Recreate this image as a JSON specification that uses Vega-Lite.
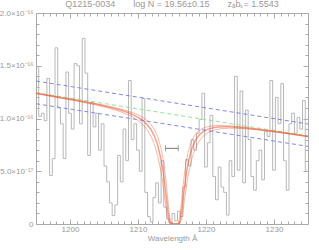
{
  "$schema": "https://vega.github.io/schema/vega-lite/v6.json",
  "width": 272,
  "height": 211,
  "autosize": {"type": "none"},
  "padding": {"left": 36, "top": 13, "right": 11, "bottom": 26},
  "background": "white",
  "title": {
    "text": "Q1215-0034\u2003\u2003log N = 19.56±0.15\u2003\u2003zₐbₛ= 1.5543",
    "font": "Liberation Sans",
    "fontSize": 9,
    "fontWeight": "normal",
    "color": "#999999",
    "anchor": "middle",
    "offset": 0
  },
  "config": {
    "view": {"stroke": null},
    "axis": {
      "grid": false,
      "domainColor": "#aaaaaa",
      "tickColor": "#aaaaaa",
      "labelColor": "#999999",
      "labelFont": "Liberation Sans",
      "labelFontSize": 8,
      "titleFont": "Liberation Sans",
      "titleFontSize": 8,
      "titleFontWeight": "normal",
      "titleColor": "#999999",
      "domainWidth": 1,
      "tickWidth": 1
    }
  },
  "datasets": {
    "spec": [
      {"lam": 1195.2, "flux": 1.48}, {"lam": 1195.6, "flux": 1.02}, {"lam": 1196.0, "flux": 1.05}, {"lam": 1196.4, "flux": 0.98},
      {"lam": 1196.8, "flux": 1.38}, {"lam": 1197.2, "flux": 0.46}, {"lam": 1197.6, "flux": 0.62}, {"lam": 1198.0, "flux": 1.67},
      {"lam": 1198.4, "flux": 1.10}, {"lam": 1198.8, "flux": 0.95}, {"lam": 1199.2, "flux": 0.62}, {"lam": 1199.6, "flux": 1.44},
      {"lam": 1200.0, "flux": 1.05}, {"lam": 1200.4, "flux": 0.90}, {"lam": 1200.8, "flux": 1.52}, {"lam": 1201.2, "flux": 1.50},
      {"lam": 1201.6, "flux": 0.95}, {"lam": 1202.0, "flux": 1.76}, {"lam": 1202.4, "flux": 1.43}, {"lam": 1202.8, "flux": 0.65},
      {"lam": 1203.2, "flux": 1.15}, {"lam": 1203.6, "flux": 0.92}, {"lam": 1204.0, "flux": 1.05}, {"lam": 1204.4, "flux": 0.70},
      {"lam": 1204.8, "flux": 0.95}, {"lam": 1205.2, "flux": 0.55}, {"lam": 1205.6, "flux": 0.40}, {"lam": 1206.0, "flux": 0.20},
      {"lam": 1206.4, "flux": 0.08}, {"lam": 1206.8, "flux": 0.18}, {"lam": 1207.2, "flux": 0.65}, {"lam": 1207.6, "flux": 0.40},
      {"lam": 1208.0, "flux": 0.90}, {"lam": 1208.4, "flux": 0.60}, {"lam": 1208.8, "flux": 1.36}, {"lam": 1209.2, "flux": 0.80},
      {"lam": 1209.6, "flux": 0.95}, {"lam": 1210.0, "flux": 0.70}, {"lam": 1210.4, "flux": 0.50}, {"lam": 1210.8, "flux": 1.19},
      {"lam": 1211.2, "flux": 0.30}, {"lam": 1211.6, "flux": 0.07}, {"lam": 1212.0, "flux": 0.02}, {"lam": 1212.4, "flux": 0.25},
      {"lam": 1212.8, "flux": 0.39}, {"lam": 1213.2, "flux": 0.20}, {"lam": 1213.6, "flux": 0.60}, {"lam": 1214.0, "flux": 0.16},
      {"lam": 1214.4, "flux": 0.05}, {"lam": 1214.8, "flux": 0.01}, {"lam": 1215.2, "flux": 0.10}, {"lam": 1215.6, "flux": 0.03},
      {"lam": 1216.0, "flux": 0.12}, {"lam": 1216.4, "flux": 0.07}, {"lam": 1216.8, "flux": 0.35}, {"lam": 1217.2, "flux": 0.61},
      {"lam": 1217.6, "flux": 0.55}, {"lam": 1218.0, "flux": 0.80}, {"lam": 1218.4, "flux": 0.70}, {"lam": 1218.8, "flux": 0.86},
      {"lam": 1219.2, "flux": 0.99}, {"lam": 1219.6, "flux": 1.24}, {"lam": 1220.0, "flux": 0.54}, {"lam": 1220.4, "flux": 0.77},
      {"lam": 1220.8, "flux": 1.03}, {"lam": 1221.2, "flux": 0.45}, {"lam": 1221.6, "flux": 0.23}, {"lam": 1222.0, "flux": 0.54},
      {"lam": 1222.4, "flux": 0.35}, {"lam": 1222.8, "flux": 0.30}, {"lam": 1223.2, "flux": 0.085}, {"lam": 1223.6, "flux": 0.60},
      {"lam": 1224.0, "flux": 0.45}, {"lam": 1224.4, "flux": 1.40}, {"lam": 1224.8, "flux": 0.51}, {"lam": 1225.2, "flux": 1.26},
      {"lam": 1225.6, "flux": 0.39}, {"lam": 1226.0, "flux": 1.08}, {"lam": 1226.4, "flux": 0.80}, {"lam": 1226.8, "flux": 0.45},
      {"lam": 1227.2, "flux": 0.32}, {"lam": 1227.6, "flux": 0.60}, {"lam": 1228.0, "flux": 0.70}, {"lam": 1228.4, "flux": 0.42},
      {"lam": 1228.8, "flux": 0.88}, {"lam": 1229.2, "flux": 0.83}, {"lam": 1229.6, "flux": 1.36}, {"lam": 1230.0, "flux": 0.51},
      {"lam": 1230.4, "flux": 1.20}, {"lam": 1230.8, "flux": 0.95}, {"lam": 1231.2, "flux": 1.33}, {"lam": 1231.6, "flux": 0.60},
      {"lam": 1232.0, "flux": 0.32}, {"lam": 1232.4, "flux": 0.95}, {"lam": 1232.8, "flux": 1.05}, {"lam": 1233.2, "flux": 0.86},
      {"lam": 1233.6, "flux": 1.01}, {"lam": 1234.0, "flux": 0.90}, {"lam": 1234.4, "flux": 1.17}, {"lam": 1234.8, "flux": 0.51}
    ],
    "model": [
      {"lam": 1195.0, "lo": 1.2404, "mid": 1.2384, "hi": 1.2358},
      {"lam": 1200.4, "lo": 1.1815, "mid": 1.1782, "hi": 1.1734},
      {"lam": 1203.4, "lo": 1.1464, "mid": 1.1413, "hi": 1.1342},
      {"lam": 1205.4, "lo": 1.1208, "mid": 1.1136, "hi": 1.1037},
      {"lam": 1207.4, "lo": 1.0910, "mid": 1.0801, "hi": 1.0650},
      {"lam": 1208.4, "lo": 1.0730, "mid": 1.0591, "hi": 1.0398},
      {"lam": 1209.4, "lo": 1.0509, "mid": 1.0323, "hi": 1.0069},
      {"lam": 1210.4, "lo": 1.0214, "mid": 0.9957, "hi": 0.9604},
      {"lam": 1210.9, "lo": 1.0018, "mid": 0.9707, "hi": 0.9285},
      {"lam": 1211.4, "lo": 0.9769, "mid": 0.9385, "hi": 0.8870},
      {"lam": 1211.9, "lo": 0.9437, "mid": 0.8956, "hi": 0.8321},
      {"lam": 1212.4, "lo": 0.8970, "mid": 0.8354, "hi": 0.7559},
      {"lam": 1212.9, "lo": 0.8270, "mid": 0.7466, "hi": 0.6465},
      {"lam": 1213.4, "lo": 0.7153, "mid": 0.6094, "hi": 0.4867},
      {"lam": 1213.65, "lo": 0.6332, "mid": 0.5137, "hi": 0.3830},
      {"lam": 1213.9, "lo": 0.5255, "mid": 0.3955, "hi": 0.2650},
      {"lam": 1214.15, "lo": 0.3864, "mid": 0.2565, "hi": 0.1442},
      {"lam": 1214.4, "lo": 0.2198, "mid": 0.1159, "hi": 0.0471},
      {"lam": 1214.65, "lo": 0.0652, "mid": 0.0209, "hi": 0.0042},
      {"lam": 1214.9, "lo": 0.0020, "mid": 0.0002, "hi": 0.0},
      {"lam": 1215.4, "lo": 0.0, "mid": 0.0, "hi": 0.0},
      {"lam": 1215.9, "lo": 0.0020, "mid": 0.0002, "hi": 0.0},
      {"lam": 1216.15, "lo": 0.0643, "mid": 0.0206, "hi": 0.0041},
      {"lam": 1216.4, "lo": 0.2155, "mid": 0.1136, "hi": 0.0462},
      {"lam": 1216.65, "lo": 0.3770, "mid": 0.2503, "hi": 0.1407},
      {"lam": 1216.9, "lo": 0.5101, "mid": 0.3839, "hi": 0.2573},
      {"lam": 1217.15, "lo": 0.6117, "mid": 0.4962, "hi": 0.3699},
      {"lam": 1217.4, "lo": 0.6875, "mid": 0.5858, "hi": 0.4678},
      {"lam": 1217.9, "lo": 0.7871, "mid": 0.7105, "hi": 0.6153},
      {"lam": 1218.4, "lo": 0.8453, "mid": 0.7873, "hi": 0.7123},
      {"lam": 1218.9, "lo": 0.8805, "mid": 0.8356, "hi": 0.7764},
      {"lam": 1219.4, "lo": 0.9025, "mid": 0.8671, "hi": 0.8195},
      {"lam": 1219.9, "lo": 0.9165, "mid": 0.8880, "hi": 0.8493},
      {"lam": 1220.4, "lo": 0.9251, "mid": 0.9017, "hi": 0.8699},
      {"lam": 1221.4, "lo": 0.9331, "mid": 0.9166, "hi": 0.8940},
      {"lam": 1222.4, "lo": 0.9339, "mid": 0.9218, "hi": 0.9050},
      {"lam": 1223.4, "lo": 0.9309, "mid": 0.9217, "hi": 0.9088},
      {"lam": 1225.4, "lo": 0.9189, "mid": 0.9131, "hi": 0.9049},
      {"lam": 1227.4, "lo": 0.9030, "mid": 0.8990, "hi": 0.8935},
      {"lam": 1230.4, "lo": 0.8761, "mid": 0.8736, "hi": 0.8701},
      {"lam": 1235.0, "lo": 0.8316, "mid": 0.8302, "hi": 0.8283}
    ],
    "cont": [
      {"lam": 1195.0, "flux": 1.245},
      {"lam": 1235.0, "flux": 0.835}
    ],
    "band": [
      {"lam": 1195.0, "flux": 1.355, "side": "upper"},
      {"lam": 1235.0, "flux": 0.948, "side": "upper"},
      {"lam": 1195.0, "flux": 1.140, "side": "lower"},
      {"lam": 1235.0, "flux": 0.736, "side": "lower"}
    ],
    "err": [
      {"lo": 1214.04, "hi": 1215.92, "y": 0.717}
    ],
    "caps": [
      {"lam": 1214.04, "y": 0.717},
      {"lam": 1215.92, "y": 0.717}
    ]
  },
  "layer": [
    {
      "data": {"name": "spec"},
      "mark": {"type": "line", "interpolate": "step", "color": "#b8b8b8", "strokeWidth": 1, "clip": true},
      "encoding": {
        "x": {"field": "lam", "type": "quantitative",
              "scale": {"domain": [1195, 1235], "nice": false, "zero": false},
              "axis": {"orient": "bottom", "values": [1200, 1210, 1220, 1230], "format": "d", "tickSize": -5, "labelPadding": 6,
                       "title": "Wavelength Å", "titlePadding": 1}},
        "y": {"field": "flux", "type": "quantitative",
              "scale": {"domain": [0, 2], "nice": false, "zero": true},
              "axis": {"orient": "left", "values": [0, 0.5, 1, 1.5, 2], "tickSize": -5, "labelPadding": 8,
                       "title": null,
                       "labelExpr": "datum.value == 0 ? '0' : (datum.value == 0.5 ? '5.0×10⁻¹⁷' : format(datum.value, '.1f') + '×10⁻¹⁶')"}}
      }
    },
    {
      "data": {"name": "cont"},
      "mark": {"type": "line", "color": "#8fe88f", "strokeWidth": 1, "strokeDash": [4, 3], "clip": true},
      "encoding": {
        "x": {"field": "lam", "type": "quantitative",
              "scale": {"domain": [1195, 1235], "nice": false, "zero": false},
              "axis": {"orient": "top", "values": [1200, 1210, 1220, 1230], "tickSize": -5, "labels": false, "title": null}},
        "y": {"field": "flux", "type": "quantitative",
              "scale": {"domain": [0, 2], "nice": false},
              "axis": {"orient": "right", "values": [0, 0.5, 1, 1.5, 2], "tickSize": -5, "labels": false, "title": null}}
      }
    },
    {
      "data": {"name": "band"},
      "mark": {"type": "line", "color": "#8484f4", "strokeWidth": 1, "strokeDash": [4, 3], "clip": true},
      "encoding": {
        "detail": {"field": "side"},
        "x": {"field": "lam", "type": "quantitative",
              "scale": {"domain": [1195, 1235], "nice": false, "zero": false},
              "axis": {"orient": "bottom", "values": [1196,1197,1198,1199,1201,1202,1203,1204,1205,1206,1207,1208,1209,1211,1212,1213,1214,1215,1216,1217,1218,1219,1221,1222,1223,1224,1225,1226,1227,1228,1229,1231,1232,1233,1234],
                       "tickSize": -3, "labels": false, "title": null, "domain": false}},
        "y": {"field": "flux", "type": "quantitative",
              "scale": {"domain": [0, 2], "nice": false},
              "axis": {"orient": "left", "values": [0.1,0.2,0.3,0.4,0.6,0.7,0.8,0.9,1.1,1.2,1.3,1.4,1.6,1.7,1.8,1.9],
                       "tickSize": -3, "labels": false, "title": null, "domain": false}}
      }
    },
    {
      "data": {"name": "model"},
      "transform": [{"fold": ["lo", "hi"], "as": ["curve", "val"]}],
      "mark": {"type": "line", "color": "#f0603c", "strokeWidth": 1, "opacity": 0.45, "clip": true},
      "encoding": {
        "detail": {"field": "curve"},
        "x": {"field": "lam", "type": "quantitative",
              "scale": {"domain": [1195, 1235], "nice": false, "zero": false},
              "axis": {"orient": "top", "values": [1196,1197,1198,1199,1201,1202,1203,1204,1205,1206,1207,1208,1209,1211,1212,1213,1214,1215,1216,1217,1218,1219,1221,1222,1223,1224,1225,1226,1227,1228,1229,1231,1232,1233,1234],
                       "tickSize": -3, "labels": false, "title": null, "domain": false}},
        "y": {"field": "val", "type": "quantitative",
              "scale": {"domain": [0, 2], "nice": false},
              "axis": {"orient": "right", "values": [0.1,0.2,0.3,0.4,0.6,0.7,0.8,0.9,1.1,1.2,1.3,1.4,1.6,1.7,1.8,1.9],
                       "tickSize": -3, "labels": false, "title": null, "domain": false}}
      }
    },
    {
      "data": {"name": "model"},
      "mark": {"type": "line", "color": "#ee5533", "strokeWidth": 1.5, "opacity": 0.55, "clip": true},
      "encoding": {
        "x": {"field": "lam", "type": "quantitative", "scale": {"domain": [1195, 1235], "nice": false, "zero": false}, "axis": null},
        "y": {"field": "mid", "type": "quantitative", "scale": {"domain": [0, 2], "nice": false}, "axis": null}
      }
    },
    {
      "data": {"name": "err"},
      "mark": {"type": "rule", "color": "#777777", "strokeWidth": 1},
      "encoding": {
        "x": {"field": "lo", "type": "quantitative", "axis": null},
        "x2": {"field": "hi"},
        "y": {"field": "y", "type": "quantitative", "axis": null}
      }
    },
    {
      "data": {"name": "caps"},
      "mark": {"type": "tick", "orient": "vertical", "color": "#777777", "size": 6, "thickness": 1},
      "encoding": {
        "x": {"field": "lam", "type": "quantitative", "axis": null},
        "y": {"field": "y", "type": "quantitative", "axis": null}
      }
    }
  ],
  "resolve": {"axis": {"x": "independent", "y": "independent"}}
}
